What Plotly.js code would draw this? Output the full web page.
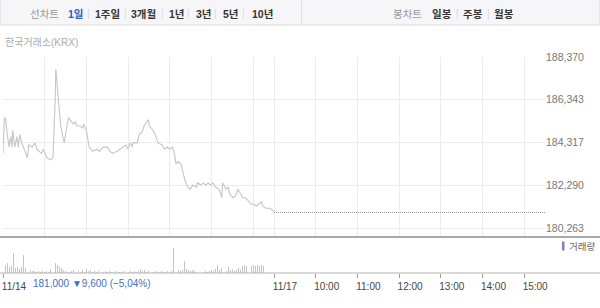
<!DOCTYPE html>
<html>
<head>
<meta charset="utf-8">
<script src="https://cdn.plot.ly/plotly-3.0.1.min.js"></script>
<style>
  html, body { margin:0; padding:0; background:#fff; }
  #chart { width:600px; height:308px; }
</style>
</head>
<body>
<div id="chart"></div>
<script>
// ---------------- DATA ----------------
// 11/14 intraday price (time of day, price in KRW)
const priceTimes = ["09:00","09:01","09:02","09:04","09:06","09:09","09:11","09:13","09:14","09:17",
  "09:20","09:22","09:24","09:27","09:29","09:35","09:37","09:42","09:46","09:49",
  "09:55","09:58","10:03","10:08","10:12","10:13","10:15","10:16","10:18","10:21",
  "10:23","10:26","10:28","10:31","10:34","10:36","10:41","10:44","10:46","10:51",
  "10:55","10:56","10:59","11:01","11:04","11:07","11:09","11:15","11:19","11:24",
  "11:30","11:34","11:38","11:44","11:48","11:53","11:57","12:00","12:03","12:06",
  "12:07","12:13","12:16","12:20","12:23","12:27","12:29","12:31","12:36","12:39",
  "12:43","12:49","12:53","12:56","13:00","13:04","13:06","13:09","13:12","13:16",
  "13:19","13:22","13:26","13:30","13:33","13:38","13:40","13:45","13:48","13:52",
  "13:55","13:59","14:02","14:06","14:11","14:15","14:16","14:21","14:24","14:26",
  "14:31","14:35","14:38","14:42","14:45","14:49","14:52","14:57","15:00","15:05",
  "15:08","15:12","15:14","15:18","15:24","15:28","15:30"];
const priceValues = [183800,184600,185500,185400,184700,184100,184600,184100,184900,184100,
  184600,184100,184700,184300,184100,183600,184200,184100,184300,184000,
  183800,184000,183600,183500,183600,184300,186300,187800,186900,185700,
  185100,184600,184300,184900,185500,185400,185200,185300,185100,185100,
  185000,185200,185000,184700,184100,184000,183900,184000,183900,184100,
  184100,183900,183800,183900,184000,184100,184200,184000,184300,184100,
  184300,184300,184700,184800,185100,185300,185400,185100,184900,184700,
  184300,184200,184000,184100,184000,184100,183900,183300,183400,183300,
  182900,182500,182200,182100,182300,182200,182400,182300,182400,182300,
  182400,182300,182400,182200,182100,181700,182400,182100,182200,181900,
  181700,181800,182100,181900,181700,181700,181600,181400,181400,181300,
  181400,181500,181300,181200,181200,181100,181000];

// 11/17: no trades yet, previous close carried across the session
const nextDayTimes = ["09:00","15:30"];
const nextDayValues = [181000,181000];

// 11/14 volume per 3-minute bin from 09:00 (thousand shares)
const volumes = [15,8,10,6,7,20,5,6,4,6, 18,5,6,3,2,2,1,2,1,2,
  1,2,1,4,6,10,8,6,5,3, 2,1,1,2,3,1,2,1,3,1,
  4,2,3,1,2,1,2,1,1,2, 1,2,1,1,2,1,1,1,2,1,
  1,2,1,2,1,2,4,2,3,1, 2,1,1,2,1,1,2,1,1,2,
  1,2,25,4,3,2,3,12,4,3, 2,3,2,1,2,3,1,2,1,2,
  3,2,4,8,3,5,3,2,6,3, 4,2,3,5,3,7,8,7,8,7,
  8,7,8,7,8,7];
const closeAuctionTime = "15:30";
const closeAuctionVolume = 30;

const priceTicks = [180263,182290,184317,186343,188370];
const xTickTexts = ["11/14","11/17","10:00","11:00","12:00","13:00","14:00","15:00"];
const xTickTimes = [["d1","09:00"],["d2","09:00"],["d2","10:00"],["d2","11:00"],["d2","12:00"],["d2","13:00"],["d2","14:00"],["d2","15:00"]];

// ---------------- HELPERS ----------------
const SESSION = 390; // minutes 09:00-15:30
function toMin(t){ const [h,m]=t.split(":").map(Number); return (h-9)*60+m; }
function pos(day,t){ return (day==="d2"?SESSION:0)+toMin(t); }

const PL=3, PR=545, PT=57, PB=273;
function px(x){ return (x-PL)/(PR-PL); }
function py(y){ return (PB-y)/(PB-PT); }
const volFrac = 36/216;

const FONT = "Liberation Sans, 'Noto Sans CJK KR', sans-serif";

// ---------------- TRACES ----------------
const tracePrice = {
  type:'scatter', mode:'lines', xaxis:'x', yaxis:'y',
  x: priceTimes.map(t=>pos("d1",t)), y: priceValues,
  line:{color:'#c4c4cc', width:1.1}, hoverinfo:'skip'
};
const traceNext = {
  type:'scatter', mode:'lines', xaxis:'x', yaxis:'y',
  x: nextDayTimes.map(t=>pos("d2",t)), y: nextDayValues,
  line:{color:'#9a9a9a', width:1, dash:'1px,1px'}, hoverinfo:'skip'
};
const volX = volumes.map((v,i)=>i*3).concat([pos("d1",closeAuctionTime)]);
const volY = volumes.concat([closeAuctionVolume]);
const traceVol = {
  type:'bar', xaxis:'x2', yaxis:'y2',
  x: volX, y: volY, width: 1.3,
  marker:{color:'#c4c4c4', line:{width:0}}, hoverinfo:'skip'
};

// grid positions: every hour on both days plus the day boundary
const gridVals = [];
for (let h=10; h<=15; h++) gridVals.push(pos("d1", h+":00"));
gridVals.push(SESSION);
for (let h=10; h<=15; h++) gridVals.push(pos("d2", h+":00"));

// ---------------- ANNOTATIONS ----------------
const ann = [];
function txt(x,y,text,opt){
  ann.push(Object.assign({xref:'paper', yref:'paper', x:px(x), y:py(y), text:text,
    showarrow:false, xanchor:'center', yanchor:'middle',
    font:{family:FONT, size:10.5, color:'#333'}}, opt||{}));
}
const bold = {family:FONT, size:10.5, color:'#333', weight:'bold'};
const sep = {family:FONT, size:10, color:'#d6d6d6'};
txt(44,14,"선차트",{font:{family:FONT,size:10.5,color:'#999'}});
txt(76,14,"1일",{font:{family:FONT,size:10.5,color:'#2f5cbf',weight:'bold'}});
txt(88,14,"|",{font:sep});
txt(107,14,"1주일",{font:bold});
txt(125,14,"|",{font:sep});
txt(143,14,"3개월",{font:bold});
txt(162,14,"|",{font:sep});
txt(176.5,14,"1년",{font:bold});
txt(188,14,"|",{font:sep});
txt(204,14,"3년",{font:bold});
txt(215,14,"|",{font:sep});
txt(230.5,14,"5년",{font:bold});
txt(243,14,"|",{font:sep});
txt(262,14,"10년",{font:bold});
txt(407.5,14,"봉차트",{font:{family:FONT,size:10.5,color:'#999'}});
txt(441.5,14,"일봉",{font:bold});
txt(457,14,"|",{font:sep});
txt(472.5,14,"주봉",{font:bold});
txt(488,14,"|",{font:sep});
txt(504,14,"월봉",{font:bold});

txt(3,42,"한국거래소(KRX)",{xanchor:'left',font:{family:FONT,size:10,color:'#aaa'}});
txt(31,283,"181,000 ▼9,600 (−5,04%)",{xanchor:'left',font:{family:FONT,size:10,color:'#4270c6'}});
txt(567,246,"거래량",{xanchor:'left',font:{family:FONT,size:9.5,color:'#666'}});

// ---------------- SHAPES ----------------
const shapes = [
  {type:'rect', xref:'paper', yref:'paper', x0:px(0), x1:px(600), y0:py(25), y1:py(-1),
    fillcolor:'#f6f6f8', line:{color:'#dcdcdc', width:1}, layer:'below'},
  {type:'line', xref:'paper', yref:'paper', x0:px(301.5), x1:px(301.5), y0:py(25), y1:py(0),
    line:{color:'#dedede', width:1}},
  {type:'line', xref:'paper', yref:'paper', x0:px(0), x1:px(600), y0:py(237), y1:py(237),
    line:{color:'#a9a9a9', width:2}},
  {type:'line', xref:'paper', yref:'paper', x0:px(0), x1:px(600), y0:py(273), y1:py(273),
    line:{color:'#b3b3b3', width:1}},
  {type:'rect', xref:'paper', yref:'paper', x0:px(562), x1:px(564.5), y0:py(250.5), y1:py(241.5),
    fillcolor:'#8a7cc4', line:{width:0}}
];

// ---------------- LAYOUT ----------------
const layout = {
  width:600, height:308,
  margin:{l:PL, r:600-PR, t:PT, b:308-PB, pad:0},
  paper_bgcolor:'#ffffff', plot_bgcolor:'rgba(0,0,0,0)',
  font:{family:FONT, size:10, color:'#666'},
  showlegend:false, bargap:0,
  xaxis:{domain:[0,1], range:[0,2*SESSION], anchor:'y', tickmode:'array', tickvals:gridVals,
    showticklabels:false, ticks:'', showgrid:true, gridcolor:'#ececec', gridwidth:1,
    zeroline:false, showline:false, fixedrange:true},
  yaxis:{domain:[volFrac,1], range:[179836,188373], side:'right', tickmode:'array',
    tickvals:priceTicks, ticktext:priceTicks.map(v=>v.toLocaleString('en-US')),
    showgrid:true, gridcolor:'#ececec', gridwidth:1, zeroline:false, showline:false, ticks:'',
    tickfont:{family:FONT, size:10.5, color:'#777'}, fixedrange:true},
  xaxis2:{domain:[0,1], range:[0,2*SESSION], anchor:'y2', tickmode:'array',
    tickvals:xTickTimes.map(d=>pos(d[0],d[1])), ticktext:xTickTexts,
    ticks:'outside', ticklen:4, tickwidth:1, tickcolor:'#999', ticklabelshift:11,
    showgrid:false, zeroline:false, showline:false,
    tickfont:{family:FONT, size:10, color:'#444'}, fixedrange:true},
  yaxis2:{domain:[0,volFrac], range:[0,36], showgrid:false, showticklabels:false,
    zeroline:false, ticks:'', showline:false, fixedrange:true},
  annotations:ann, shapes:shapes
};

Plotly.newPlot('chart', [tracePrice, traceNext, traceVol], layout, {staticPlot:true, displayModeBar:false});
</script>
</body>
</html>
